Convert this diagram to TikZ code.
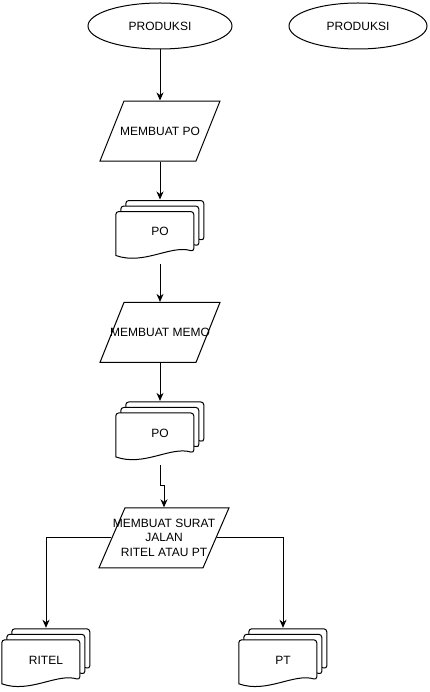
\documentclass[tikz,border=0pt]{standalone}
\usepackage{fontspec}
\setmainfont{Liberation Sans}
\usetikzlibrary{
	shapes.geometric,
	arrows.meta,
	positioning,
	backgrounds
}

\begin{document}
\begin{tikzpicture}[
	x=1pt, y=-1pt,
	every node/.style={font=\fontsize{12}{14.5}\selectfont},
	terminal/.style={
		ellipse, draw, line width=1pt,
		minimum width=144pt, minimum height=46pt, inner sep=0pt
	},
	iobox/.style={
		trapezium, trapezium stretches=true,
		trapezium left angle=71.57, trapezium right angle=108.43,
		draw, line width=1pt, inner sep=2pt,
		minimum width=120pt, minimum height=60pt
	},
	docbox/.style={
		rectangle, inner sep=0pt,
		minimum width=90pt, minimum height=64pt
	},
	sheet/.style={line width=1pt, fill=white, rounded corners=3pt},
	arrow/.style={-{Stealth[length=8pt, width=7pt, inset=2.5pt]}, line width=1pt, black}
	]
	\useasboundingbox (0,0) rectangle (430,692);

	% start
	\node[terminal] (prod1) at (160,26) {PRODUKSI};
	\node[terminal, minimum width=138pt, right=56pt of prod1] (prod2) {PRODUKSI};

	% PO
	\node[iobox, below=51pt of prod1, label=center:MEMBUAT PO] (buatPO) {};
	\node[docbox, below=38pt of buatPO] (docPO) {PO};

	% memo
	\node[iobox, below=38pt of docPO, label=center:MEMBUAT MEMO] (buatMemo) {};
	\node[docbox, below=38pt of buatMemo] (docMemo) {PO};

	% surat jalan
	\node[iobox, minimum width=130pt, below=42pt of docMemo, xshift=4pt,
		label={[align=center]center:MEMBUAT SURAT\\JALAN\\RITEL ATAU PT}] (buatSurat) {};

	% ritel / pt
	\node[docbox] (ritel) at (46,660) {RITEL};
	\node[docbox] (pt) at (283,660) {PT};

	% stacked sheets behind the document nodes
	\begin{scope}[on background layer]
		\foreach \n in {docPO, docMemo, ritel, pt} {
			\begin{scope}[shift={(\n.north west)}]
				\foreach \dx/\dy in {11/1, 6/6.5, 1/12}
					\draw[sheet] (\dx,\dy+44) -- (\dx,\dy) -- (\dx+78,\dy) -- (\dx+78,\dy+40)
						[sharp corners] .. controls (\dx+55,\dy+33) and (\dx+28,\dy+54) .. cycle;
			\end{scope}
		}
	\end{scope}

	% arrows
	\draw[arrow] (prod1) -- (buatPO);
	\draw[arrow] (buatPO) -- (docPO);
	\draw[arrow] (docPO) -- (buatMemo);
	\draw[arrow] (buatMemo) -- (docMemo);
	\draw[arrow] (docMemo.south) -- ++(0,20) -| (buatSurat.north);
	\draw[arrow] (buatSurat.west) -| (ritel.north);
	\draw[arrow] (buatSurat.east) -| (pt.north);
\end{tikzpicture}
\end{document}
